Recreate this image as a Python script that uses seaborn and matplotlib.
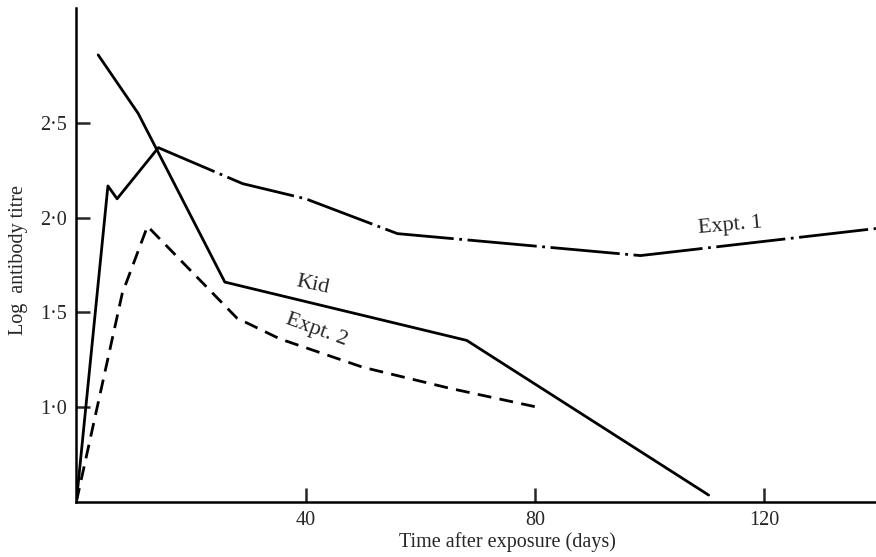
import numpy as np
import pandas as pd
import matplotlib
matplotlib.use("Agg")
import matplotlib.pyplot as plt
import seaborn as sns

# ── Data ──────────────────────────────────────────────────────────────────────
kid_days = [3.8, 10.8, 25.9, 68.1, 110.3]
kid_titre = [2.86, 2.55, 1.66, 1.352, 0.535]

expt1_days = [0, 5.5, 7.1, 14.3, 29, 40, 56, 98.4, 139.5]
expt1_titre = [0.5, 2.168, 2.10, 2.37, 2.18, 2.10, 1.916, 1.80, 1.943]

expt2_days = [0, 8, 12.4, 28, 35.5, 50, 65, 80.3]
expt2_titre = [0.5, 1.6, 1.955, 1.47, 1.36, 1.21, 1.10, 1.0]

x_ticks = [40, 80, 120]
y_ticks = [1.0, 1.5, 2.0, 2.5]

# the early rise of Expt. 1 is drawn solid in the original, dash-dot after the peak
EXPT1_PEAK = 3

# ── Style ─────────────────────────────────────────────────────────────────────
sns.set_style("ticks")
plt.rcParams["font.family"] = ["Liberation Serif", "DejaVu Serif"]
plt.rcParams["font.size"] = 14.5

kid = pd.DataFrame({"days": kid_days, "titre": kid_titre})
expt1 = pd.DataFrame({"days": expt1_days, "titre": expt1_titre})
expt2 = pd.DataFrame({"days": expt2_days, "titre": expt2_titre})

fig = plt.figure(figsize=(8.76, 5.57), dpi=100)
ax = fig.add_axes([0.0872, 0.0993, 0.9128, 0.8864])

line_kw = dict(x="days", y="titre", color="black", linewidth=2, sort=False, ax=ax)
sns.lineplot(data=kid, **line_kw)
sns.lineplot(data=expt1.iloc[:EXPT1_PEAK + 1], **line_kw)
sns.lineplot(data=expt1.iloc[EXPT1_PEAK:], linestyle=(3, (25, 2, 1, 2)), **line_kw)
sns.lineplot(data=expt2, linestyle=(0, (5, 3)), **line_kw)

ax.set_xlim(0, 139.5)
ax.set_ylim(0.5, 3.108)
ax.set_xticks(x_ticks)
ax.set_xticklabels([str(t) for t in x_ticks])
ax.set_yticks(y_ticks)
ax.set_yticklabels([f"{t:.1f}".replace(".", "·") for t in y_ticks])
ax.tick_params(direction="in", length=10, width=1.8, pad=7, labelsize=14.5)

sns.despine(ax=ax)
for side in ["left", "bottom"]:
    ax.spines[side].set_linewidth(1.8)
    ax.spines[side].set_color("black")

ax.set_xlabel("Time after exposure (days)", fontsize=14.5)
ax.set_ylabel("Log  antibody titre", fontsize=14.5)
ax.xaxis.set_label_coords(0.539, -0.061)
ax.yaxis.set_label_coords(-0.0605, 0.49)

# curve labels
ax.text(41.3, 1.645, "Kid", fontsize=16, rotation=-12, ha="center", va="center")
ax.text(41.9, 1.405, "Expt. 2", fontsize=16, rotation=-20, ha="center", va="center")
ax.text(114.1, 1.96, "Expt. 1", fontsize=16, rotation=5, ha="center", va="center")

fig.savefig("out.png", dpi=100)
